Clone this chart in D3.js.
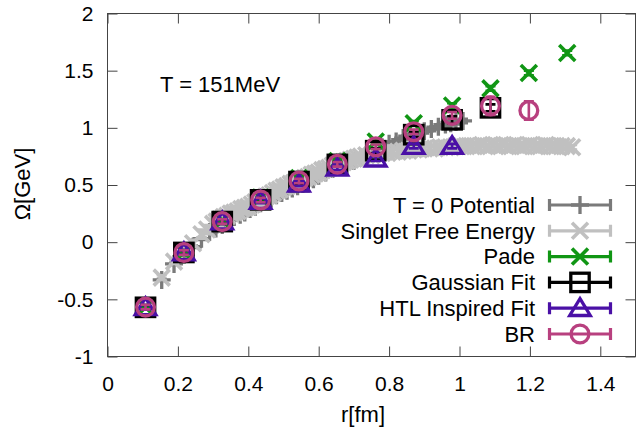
<!DOCTYPE html>
<html><head><meta charset="utf-8">
<script src="https://cdn.jsdelivr.net/npm/d3@7"></script>
<style>
body{margin:0;background:#fff}
svg{display:block}
text{font-family:"Liberation Sans",Arial,sans-serif;fill:#000}
</style>
</head><body>
<svg id="c" width="640" height="437"></svg>
<script>
// ---------- data ----------
const xTicks = [0, 0.2, 0.4, 0.6, 0.8, 1, 1.2, 1.4];
const yTicks = [-1, -0.5, 0, 0.5, 1, 1.5, 2];

const rMain = [0.108, 0.217, 0.326, 0.435, 0.544, 0.653, 0.762, 0.870, 0.979, 1.088, 1.197, 1.306];
const padeV  = [-0.57, -0.09, 0.19, 0.39, 0.56, 0.71, 0.88, 1.04, 1.195, 1.345, 1.48, 1.655];
const padeErr = [0.01, 0.01, 0.01, 0.01, 0.01, 0.01, 0.01, 0.02, 0.02, 0.02, 0.02, 0.02];
const gaussV = [-0.57, -0.09, 0.18, 0.37, 0.53, 0.68, 0.80, 0.94, 1.07, 1.175];
const gaussErr = [0.02, 0.02, 0.02, 0.02, 0.02, 0.02, 0.02, 0.02, 0.03, 0.03];
const htlV = [-0.57, -0.09, 0.18, 0.36, 0.51, 0.65, 0.73, 0.84, 0.84];
const htlErr = [0.02, 0.02, 0.02, 0.02, 0.02, 0.02, 0.02, 0.02, 0.02];
const brV = [-0.568, -0.091, 0.18, 0.369, 0.535, 0.681, 0.834, 0.966, 1.109, 1.192, 1.151];
const brErr = [0.02, 0.02, 0.02, 0.02, 0.02, 0.02, 0.02, 0.02, 0.03, 0.08, 0.08];

const t0R = [0.154, 0.189, 0.218, 0.243, 0.267, 0.29, 0.308, 0.326, 0.344, 0.36, 0.377, 0.39, 0.405, 0.42, 0.435, 0.45,
  0.465, 0.48, 0.495, 0.51, 0.525, 0.54, 0.555, 0.57, 0.585, 0.6, 0.62, 0.64, 0.66, 0.68, 0.7, 0.72, 0.74, 0.76,
  0.78, 0.8, 0.82, 0.84, 0.86, 0.88, 0.9, 0.92, 0.94, 0.96, 0.975, 0.99, 1.01];
const t0V = [-0.33, -0.19, -0.11, -0.04, 0.03, 0.09, 0.12, 0.15, 0.19, 0.22, 0.24, 0.26, 0.29, 0.31, 0.34, 0.36,
  0.38, 0.41, 0.43, 0.45, 0.47, 0.49, 0.51, 0.53, 0.55, 0.58, 0.61, 0.64, 0.66, 0.68, 0.71, 0.74, 0.77, 0.80,
  0.83, 0.86, 0.88, 0.91, 0.93, 0.95, 0.97, 0.99, 1.01, 1.03, 1.04, 1.05, 1.06];
const t0Err = [0.01, 0.01, 0.01, 0.01, 0.01, 0.01, 0.01, 0.01, 0.01, 0.01, 0.01, 0.01, 0.01, 0.01, 0.01, 0.01,
  0.01, 0.01, 0.01, 0.01, 0.01, 0.01, 0.01, 0.01, 0.01, 0.01, 0.01, 0.01, 0.01, 0.01, 0.01, 0.01, 0.01, 0.01,
  0.02, 0.02, 0.02, 0.02, 0.02, 0.02, 0.02, 0.02, 0.02, 0.02, 0.02, 0.02, 0.02];

const singletR = [0.154, 0.189, 0.218, 0.243, 0.267, 0.283,
  0.30, 0.31, 0.32, 0.33, 0.34, 0.35, 0.36, 0.37, 0.38, 0.39, 0.40, 0.41, 0.42, 0.43, 0.44, 0.45, 0.46, 0.47, 0.48, 0.49,
  0.50, 0.51, 0.52, 0.53, 0.54, 0.55, 0.56, 0.57, 0.58, 0.59, 0.60, 0.61, 0.62, 0.63, 0.64, 0.65, 0.66, 0.67, 0.68, 0.69,
  0.70, 0.71, 0.72, 0.735, 0.75, 0.765, 0.78, 0.795, 0.81, 0.825, 0.84, 0.855, 0.87, 0.885, 0.90, 0.915, 0.93, 0.945,
  0.96, 0.975, 0.99, 1.005, 1.02, 1.035, 1.05, 1.065, 1.08, 1.095, 1.11, 1.125, 1.14, 1.155, 1.17, 1.185, 1.20, 1.215,
  1.23, 1.245, 1.26, 1.275, 1.29, 1.305, 1.32];
const singletV = [-0.31, -0.17, -0.08, -0.01, 0.07, 0.11,
  0.16, 0.18, 0.20, 0.22, 0.23, 0.25, 0.26, 0.27, 0.29, 0.30, 0.31, 0.33, 0.35, 0.36, 0.38, 0.40, 0.41, 0.43, 0.45, 0.46,
  0.48, 0.49, 0.51, 0.52, 0.53, 0.55, 0.56, 0.57, 0.59, 0.60, 0.61, 0.63, 0.64, 0.65, 0.67, 0.68, 0.69, 0.70, 0.71, 0.72,
  0.73, 0.74, 0.75, 0.76, 0.76, 0.77, 0.78, 0.78, 0.79, 0.79, 0.80, 0.80, 0.81, 0.81, 0.82, 0.82, 0.82, 0.83,
  0.83, 0.83, 0.84, 0.84, 0.84, 0.84, 0.84, 0.85, 0.84, 0.85, 0.84, 0.85, 0.84, 0.85, 0.84, 0.84, 0.85, 0.84,
  0.84, 0.85, 0.84, 0.84, 0.84, 0.84, 0.83];
const singletErr = [0.02, 0.02, 0.03, 0.03, 0.04, 0.04,
  0.045, 0.045, 0.045, 0.045, 0.045, 0.045, 0.045, 0.045, 0.045, 0.045, 0.045, 0.045, 0.045, 0.045, 0.045, 0.045, 0.045, 0.045, 0.045, 0.045,
  0.045, 0.045, 0.045, 0.045, 0.045, 0.045, 0.04, 0.04, 0.04, 0.04, 0.04, 0.04, 0.04, 0.035, 0.035, 0.035, 0.035, 0.035, 0.035, 0.035,
  0.03, 0.03, 0.03, 0.03, 0.03, 0.03, 0.025, 0.025, 0.025, 0.025, 0.025, 0.025, 0.025, 0.025, 0.025, 0.025, 0.025, 0.025,
  0.02, 0.02, 0.02, 0.02, 0.02, 0.02, 0.02, 0.02, 0.02, 0.02, 0.02, 0.02, 0.02, 0.02, 0.02, 0.02, 0.02, 0.02,
  0.02, 0.02, 0.02, 0.02, 0.02, 0.02, 0.02];

const seriesNames = ["T = 0 Potential", "Singlet Free Energy", "Pade", "Gaussian Fit", "HTL Inspired Fit", "BR"];
const seriesColors = ["#7a7a7a", "#c0c0c0", "#109614", "#000000", "#4a10a6", "#b8407f"];
const seriesMarkers = ["plus", "cross", "cross", "square", "triangle", "circle"];

// ---------- drawing ----------
const svg = d3.select("#c");
const x = d3.scaleLinear().domain([0, 1.5]).range([107.5, 635.5]);
const y = d3.scaleLinear().domain([-1, 2]).range([356.5, 13.5]);
const fmt = d => String(+(+d).toFixed(1));
const FS = 22;

function drawMarker(g, type, cx, cy, color) {
  const sw = 3.3;
  if (type === "plus") {
    const s = 9;
    g.append("path").attr("d", `M${cx - s},${cy}H${cx + s}M${cx},${cy - s}V${cy + s}`)
      .attr("stroke", color).attr("stroke-width", sw).attr("fill", "none");
  } else if (type === "cross") {
    const s = 8;
    g.append("path").attr("d", `M${cx - s},${cy - s}L${cx + s},${cy + s}M${cx - s},${cy + s}L${cx + s},${cy - s}`)
      .attr("stroke", color).attr("stroke-width", 3.6).attr("fill", "none");
  } else if (type === "square") {
    const s = 9.2;
    g.append("rect").attr("x", cx - s).attr("y", cy - s).attr("width", 2 * s).attr("height", 2 * s)
      .attr("stroke", color).attr("stroke-width", sw).attr("fill", "none");
  } else if (type === "triangle") {
    g.append("path").attr("d", `M${cx},${cy - 9.5}L${cx + 10.3},${cy + 7.3}L${cx - 10.3},${cy + 7.3}Z`)
      .attr("stroke", color).attr("stroke-width", sw).attr("fill", "none").attr("stroke-linejoin", "miter");
  } else if (type === "circle") {
    g.append("circle").attr("cx", cx).attr("cy", cy).attr("r", 8.9)
      .attr("stroke", color).attr("stroke-width", sw).attr("fill", "none");
  }
}

function drawErr(g, cx, v, e, color) {
  const y0 = y(v - e), y1 = y(v + e), c = 5;
  g.append("path").attr("d", `M${cx},${y0}V${y1}M${cx - c},${y0}H${cx + c}M${cx - c},${y1}H${cx + c}`)
    .attr("stroke", color).attr("stroke-width", 2.6).attr("fill", "none");
}

function drawSeries(rs, vs, es, idx) {
  const g = svg.append("g");
  const color = seriesColors[idx];
  rs.forEach((r, i) => { if (vs[i] !== undefined) drawErr(g, x(r), vs[i], es[i], color); });
  rs.forEach((r, i) => { if (vs[i] !== undefined) drawMarker(g, seriesMarkers[idx], x(r), y(vs[i]), color); });
}

// axes (ticks pointing inward, mirrored)
const axisColor = "#444";
const gb = svg.append("g").attr("transform", `translate(0,${y(-1)})`)
  .call(d3.axisBottom(x).tickValues(xTicks).tickSizeInner(-10).tickSizeOuter(0).tickPadding(20).tickFormat(fmt));
const gt = svg.append("g").attr("transform", `translate(0,${y(2)})`)
  .call(d3.axisTop(x).tickValues(xTicks).tickSizeInner(-10).tickSizeOuter(0).tickFormat(""));
const gl = svg.append("g").attr("transform", `translate(${x(0)},0)`)
  .call(d3.axisLeft(y).tickValues(yTicks).tickSizeInner(-10).tickSizeOuter(0).tickPadding(14).tickFormat(fmt));
const gr = svg.append("g").attr("transform", `translate(${x(1.5)},0)`)
  .call(d3.axisRight(y).tickValues(yTicks).tickSizeInner(-10).tickSizeOuter(0).tickFormat(""));
[gb, gt, gl, gr].forEach(g => {
  g.select(".domain").remove();
  g.selectAll("line").attr("stroke", axisColor).attr("stroke-width", 1);
  g.selectAll("text").attr("font-size", 21).attr("font-family", '"Liberation Sans",Arial,sans-serif').attr("fill", "#000");
});

// data
drawSeries(t0R, t0V, t0Err, 0);
drawSeries(singletR, singletV, singletErr, 1);
drawSeries(rMain, padeV, padeErr, 2);
drawSeries(rMain.slice(0, gaussV.length), gaussV, gaussErr, 3);
drawSeries(rMain.slice(0, htlV.length), htlV, htlErr, 4);
drawSeries(rMain.slice(0, brV.length), brV, brErr, 5);

// border
svg.append("rect").attr("x", x(0)).attr("y", y(2)).attr("width", x(1.5) - x(0)).attr("height", y(-1) - y(2))
  .attr("fill", "none").attr("stroke", axisColor).attr("stroke-width", 1);

// annotation
svg.append("text").attr("x", 160).attr("y", 92).attr("font-size", FS).text("T = 151MeV");

// axis labels
svg.append("text").attr("x", 363).attr("y", 422).attr("text-anchor", "middle").attr("font-size", FS).text("r[fm]");
svg.append("text").attr("transform", "translate(30,184) rotate(-90)").attr("text-anchor", "middle")
  .attr("font-size", FS).text("Ω[GeV]");

// legend
const lg = svg.append("g");
seriesNames.forEach((name, i) => {
  const cy = 205 + i * 25.8;
  const color = seriesColors[i];
  lg.append("text").attr("x", 535).attr("y", cy + 7.8).attr("text-anchor", "end").attr("font-size", FS).text(name);
  lg.append("path").attr("d", `M548,${cy}H612M549.5,${cy - 6}V${cy + 6}M610.5,${cy - 6}V${cy + 6}`)
    .attr("stroke", color).attr("stroke-width", 3.2).attr("fill", "none");
  drawMarker(lg, seriesMarkers[i], 580, cy, color);
});
</script>
</body></html>
